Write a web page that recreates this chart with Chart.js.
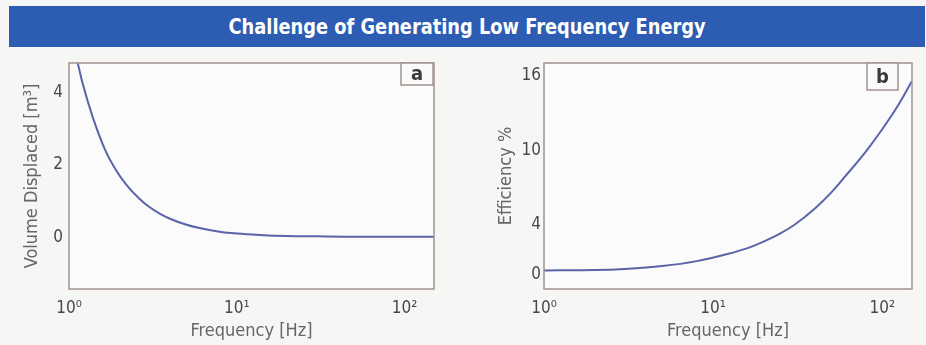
<!DOCTYPE html>
<html>
<head>
<meta charset="utf-8">
<script src="https://cdn.jsdelivr.net/npm/chart.js@4.4.1/dist/chart.umd.min.js"></script>
<style>
  html, body { margin: 0; padding: 0; background: #f6f6f5; }
  body { width: 926px; height: 345px; position: relative; overflow: hidden;
         font-family: "DejaVu Sans Condensed", Roboto, sans-serif; }
  #banner { position: absolute; left: 9px; top: 6px; width: 916px; height: 41px;
            background: #2c5db2; color: #fff; text-align: center;
            line-height: 41px; }
  #banner span { display: inline-block; font-size: 22px; font-weight: bold;
                 transform: scaleX(0.9); transform-origin: center; }
  .box { position: absolute; top: 50px; height: 295px; }
</style>
</head>
<body>
<div id="banner"><span>Challenge of Generating Low Frequency Energy</span></div>
<div class="box" style="left:0;width:460px"><canvas id="ca" width="460" height="295"></canvas></div>
<div class="box" style="left:460px;width:466px"><canvas id="cb" width="466" height="295"></canvas></div>
<script>
// ---- data ----
const freqA = [1.05, 1.13, 1.2, 1.38, 1.66, 1.9, 2.2, 2.62, 3.0, 3.45, 4.0, 4.97, 6.0, 7.9, 10, 13.6, 20, 30, 50, 80, 150];
const volA  = [5.3, 4.8, 4.3, 3.35, 2.37, 1.87, 1.45, 1.07, 0.84, 0.66, 0.51, 0.35, 0.25, 0.15, 0.10, 0.06, 0.03, 0.02, 0.01, 0.01, 0.01];
const freqB = [1, 2, 3, 5, 8, 12, 16, 20, 25, 30, 40, 50, 60, 80, 100, 125, 150];
const effB  = [0.3, 0.33, 0.42, 0.65, 1.05, 1.6, 2.1, 2.65, 3.3, 3.95, 5.3, 6.6, 7.85, 9.9, 11.7, 13.7, 15.6];
const xTicks = [1, 10, 100];
const xTickLabels = ['10\u2070', '10\u00B9', '10\u00B2'];
const yTicksA = [0, 2, 4];
const yTicksB = [0, 4, 10, 16];

const FONT = '"DejaVu Sans Condensed", Roboto, sans-serif';
const LINE = '#5b63a9';
const BORDER = '#a0948f';

function frameAndTag(letter, boxW, boxH, inset) {
  return {
    id: 'frame' + letter,
    afterDatasetsDraw(chart) {
      const {ctx, chartArea: a} = chart;
      ctx.save();
      ctx.strokeStyle = BORDER;
      ctx.lineWidth = 1.5;
      ctx.strokeRect(a.left, a.top, a.right - a.left, a.bottom - a.top);
      const bx = a.right - boxW - inset, by = a.top;
      ctx.fillStyle = '#fafafa';
      ctx.fillRect(bx, by, boxW, boxH);
      ctx.strokeRect(bx, by, boxW, boxH);
      ctx.fillStyle = '#3a3a3a';
      ctx.font = 'bold 20px ' + FONT;
      ctx.textAlign = 'center';
      ctx.textBaseline = 'middle';
      ctx.fillText(letter, bx + boxW / 2, by + boxH / 2 + 1);
      ctx.restore();
    }
  };
}

function bgPlugin() {
  return {
    id: 'bg',
    beforeDraw(chart) {
      const {ctx, chartArea: a} = chart;
      ctx.save();
      ctx.fillStyle = '#fbfbfb';
      ctx.fillRect(a.left, a.top, a.right - a.left, a.bottom - a.top);
      ctx.restore();
    }
  };
}

function makeChart(id, fx, fy, yMin, yMax, yTicks, yTitle, yAxisW, padRight, tickPadY, titlePadY, letter, bw, bh, inset) {
  const pts = fx.map((f, i) => ({x: f, y: fy[i]}));
  return new Chart(document.getElementById(id), {
    type: 'line',
    data: { datasets: [{ data: pts, borderColor: LINE, borderWidth: 2, pointRadius: 0,
                         cubicInterpolationMode: 'monotone', fill: false }] },
    options: {
      responsive: false, animation: false,
      layout: { padding: { top: 13, right: padRight, left: 0, bottom: 0 } },
      plugins: { legend: { display: false }, tooltip: { enabled: false } },
      scales: {
        x: {
          type: 'logarithmic', min: 1, max: 150,
          grid: { display: false, drawTicks: false },
          border: { display: false },
          afterBuildTicks: s => { s.ticks = xTicks.map(v => ({value: v})); },
          afterFit: s => { s.height = 56; s.paddingLeft = 0; s.paddingRight = 0; },
          ticks: { padding: 9, color: '#484848', font: { family: FONT, size: 17 },
                   maxRotation: 0, autoSkip: false,
                   callback: (v) => { const i = xTicks.indexOf(v); return i >= 0 ? xTickLabels[i] : ''; } },
          title: { display: true, text: 'Frequency [Hz]', color: '#666',
                   font: { family: FONT, size: 18 }, padding: { top: 0, bottom: 3 } }
        },
        y: {
          min: yMin, max: yMax,
          grid: { display: false, drawTicks: false },
          border: { display: false },
          afterBuildTicks: s => { s.ticks = yTicks.map(v => ({value: v})); },
          afterFit: s => { s.width = yAxisW; s.paddingTop = 0; s.paddingBottom = 0; },
          ticks: { padding: tickPadY, color: '#484848', font: { family: FONT, size: 17 } },
          title: { display: true, text: yTitle, color: '#666',
                   font: { family: FONT, size: 18 }, padding: { top: titlePadY, bottom: 0 } }
        }
      }
    },
    plugins: [bgPlugin(), frameAndTag(letter, bw, bh, inset)]
  });
}

makeChart('ca', freqA, volA, -1.44, 4.83, yTicksA, 'Volume Displaced [m\u00B3]', 69, 26, 6, 22, 'a', 32, 22, 1);
makeChart('cb', freqB, effB, -1.2, 17.05, yTicksB, 'Efficiency %', 84, 14, 3, 36, 'b', 31, 27, 14);
</script>
</body>
</html>
